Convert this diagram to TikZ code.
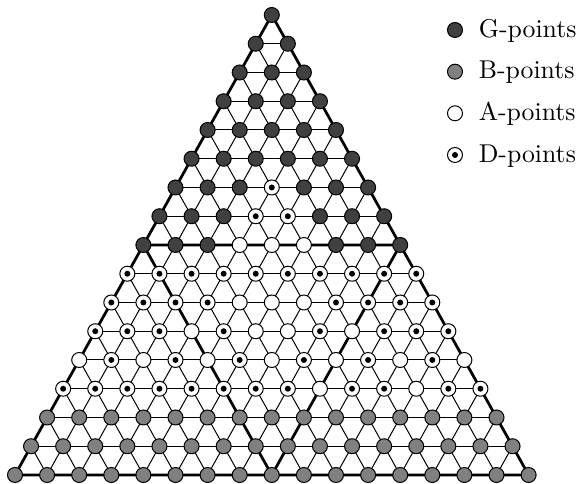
\documentclass[tikz,border=0pt]{standalone}
\begin{document}
\begin{tikzpicture}[x=0.4pt,y=-0.4pt,
  gridline/.style={line width=0.4pt,black},
  thickline/.style={line width=1.1pt,black,line join=round},
  pt/.style={circle,draw=black,line width=0.4pt,inner sep=0pt,minimum size=6pt},
  ptG/.style={pt,fill=black!75},
  ptB/.style={pt,fill=black!50},
  ptA/.style={pt,fill=white},
  ptD/.style={pt,fill=white,path picture={\fill[black] (path picture bounding box.center) circle (1.2pt);}},
  legtext/.style={anchor=base west,inner sep=0pt,font=\fontsize{10.3}{12}\selectfont}]
\useasboundingbox (0,0) rectangle (582,484);
% lattice coordinates
\foreach \r in {0,...,16}{
  \foreach \k in {0,...,\r}{
    \coordinate (c-\r-\k) at ({271.8+(\k-\r/2)*32.1},{15+\r*28.75});
  }
}
% grid lines
\foreach \r in {1,...,16}{\draw[gridline] (c-\r-0) -- (c-\r-\r);}
\foreach \c in {1,...,15}{\pgfmathtruncatemacro\e{16-\c}\draw[gridline] (c-\c-0) -- (c-16-\e);}
\foreach \k in {1,...,15}{\draw[gridline] (c-\k-\k) -- (c-16-\k);}
% thick lines
\draw[thickline] (c-0-0) -- (c-16-0) -- (c-16-16) -- cycle;
\draw[thickline] (c-8-0) -- (c-8-8) -- (c-16-8) -- cycle;
% points
\foreach \r/\lst in {
  0/{G},
  1/{G,G},
  2/{G,G,G},
  3/{G,G,G,G},
  4/{G,G,G,G,G},
  5/{G,G,G,G,G,G},
  6/{G,G,G,D,G,G,G},
  7/{G,G,G,D,D,G,G,G},
  8/{G,G,G,A,A,A,G,G,G},
  9/{D,D,D,D,D,D,D,D,D,D},
  10/{D,D,D,D,A,A,A,D,D,D,D},
  11/{D,D,D,A,D,A,A,D,A,D,D,D},
  12/{A,D,A,D,A,D,A,D,A,D,A,D,A},
  13/{D,D,D,D,D,D,D,D,A,D,D,A,D,D},
  14/{B,B,B,B,B,B,B,B,B,B,B,B,B,B,B},
  15/{B,B,B,B,B,B,B,B,B,B,B,B,B,B,B,B},
  16/{B,B,B,B,B,B,B,B,B,B,B,B,B,B,B,B,B}}{
  \foreach \t [count=\kk from 0] in \lst{
    \node[pt\t] (p-\r-\kk) at (c-\r-\kk) {};
  }
}
% legend
\node[ptG] (lg) at (455,30) {};
\node[ptB] (lb) at (455,71.7) {};
\node[ptA] (la) at (455,113.3) {};
\node[ptD] (ld) at (455,155) {};
\node[legtext] (tg) at (478.3,37.3) {G-points};
\node[legtext] (tb) at (478.3,79) {B-points};
\node[legtext] (ta) at (478.3,120.6) {A-points};
\node[legtext] (td) at (478.3,162.3) {D-points};
\end{tikzpicture}
\end{document}
